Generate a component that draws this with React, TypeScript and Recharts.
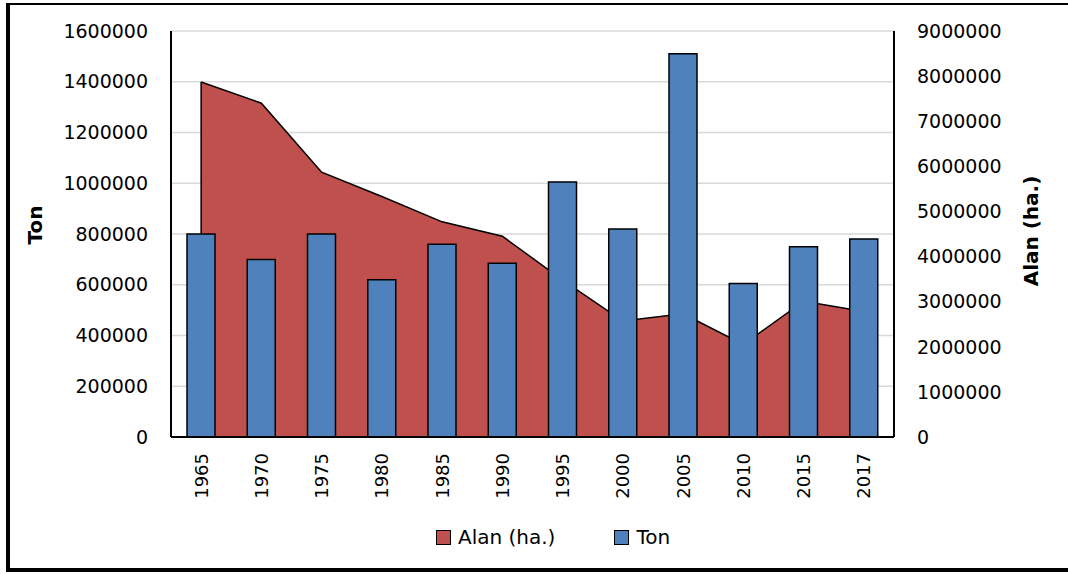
import React from 'react';
import {
  ComposedChart,
  Bar,
  Area,
  XAxis,
  YAxis,
  CartesianGrid,
  Legend,
  ReferenceLine,
} from 'recharts';

const years = ['1965', '1970', '1975', '1980', '1985', '1990', '1995', '2000', '2005', '2010', '2015', '2017'];
const ton = [800000, 700000, 800000, 620000, 760000, 685000, 1005000, 820000, 1510000, 605000, 750000, 780000];
const alan = [7870000, 7400000, 5870000, 5330000, 4770000, 4450000, 3480000, 2570000, 2730000, 2050000, 3010000, 2780000];
const leftTicks = [0, 200000, 400000, 600000, 800000, 1000000, 1200000, 1400000, 1600000];
const rightTicks = [0, 1000000, 2000000, 3000000, 4000000, 5000000, 6000000, 7000000, 8000000, 9000000];
const LEFT_MAX = 1600000;
const RIGHT_MAX = 9000000;

const data = years.map((y, i) => ({ year: y, ton: ton[i], alan: alan[i] }));

const FONT = '"DejaVu Sans", sans-serif';
const RED = '#C0504D';
const BLUE = '#4F81BD';

const XTick = (props: any) => {
  const { x, y, payload } = props;
  return (
    <text
      x={x}
      y={y}
      transform={`rotate(-90 ${x} ${y})`}
      textAnchor="end"
      dominantBaseline="central"
      fontFamily={FONT}
      fontSize={18}
      fill="#000"
    >
      {payload.value}
    </text>
  );
};

const LeftTitle = () => (
  <text
    x={35}
    y={225}
    transform="rotate(-90 35 225)"
    textAnchor="middle"
    dominantBaseline="central"
    fontFamily={FONT}
    fontSize={20}
    fontWeight="bold"
    fill="#000"
  >
    Ton
  </text>
);

const RightTitle = () => (
  <text
    x={1031}
    y={231}
    transform="rotate(-90 1031 231)"
    textAnchor="middle"
    dominantBaseline="central"
    fontFamily={FONT}
    fontSize={20}
    fontWeight="bold"
    fill="#000"
  >
    Alan (ha.)
  </text>
);

const LegendContent = () => {
  const items = [
    { label: 'Alan (ha.)', color: RED, gap: 59 },
    { label: 'Ton', color: BLUE, gap: 0 },
  ];
  return (
    <div style={{ display: 'flex', alignItems: 'center', fontFamily: FONT, fontSize: 20, color: '#000' }}>
      {items.map((it) => (
        <div key={it.label} style={{ display: 'flex', alignItems: 'center', marginRight: it.gap }}>
          <span
            style={{
              display: 'inline-block',
              width: 15,
              height: 15,
              background: it.color,
              border: '1.5px solid #000',
              boxSizing: 'border-box',
              marginRight: 7,
            }}
          />
          <span>{it.label}</span>
        </div>
      ))}
    </div>
  );
};

export default function App() {
  return (
    <div style={{ position: 'absolute', left: 0, top: 0, width: 1068, height: 574, overflow: 'hidden', background: '#fff' }}>
      <div
        style={{
          position: 'absolute',
          left: 6,
          top: 3,
          width: 1062,
          height: 569,
          boxSizing: 'border-box',
          borderLeft: '4px solid #000',
          borderTop: '2px solid #000',
          borderBottom: '4px solid #000',
        }}
      />
      <div style={{ position: 'absolute', left: 0, top: 0 }}>
        <ComposedChart
          width={1068}
          height={574}
          data={data}
          margin={{ top: 31, right: 0, left: 0, bottom: 0 }}
        >
          <CartesianGrid yAxisId="left" vertical={false} stroke="#D9D9D9" strokeWidth={1.5} />
          <XAxis
            dataKey="year"
            height={137}
            axisLine={{ stroke: '#000', strokeWidth: 2 }}
            tickLine={false}
            tickSize={0}
            tickMargin={16}
            tick={<XTick />}
            interval={0}
          />
          <XAxis
            xAxisId="top"
            dataKey="year"
            orientation="top"
            height={0}
            axisLine={{ stroke: '#000', strokeWidth: 2 }}
            tickLine={false}
            tick={false}
          />
          <YAxis
            yAxisId="left"
            width={171}
            domain={[0, LEFT_MAX]}
            ticks={leftTicks}
            interval={0}
            axisLine={{ stroke: '#000', strokeWidth: 2 }}
            tickLine={false}
            tickSize={0}
            tickMargin={23}
            tick={{ fontFamily: FONT, fontSize: 19, fill: '#000' }}
            label={<LeftTitle />}
          />
          <YAxis
            yAxisId="right"
            orientation="right"
            width={174}
            domain={[0, RIGHT_MAX]}
            ticks={rightTicks}
            interval={0}
            axisLine={{ stroke: '#000', strokeWidth: 2 }}
            tickLine={false}
            tickSize={0}
            tickMargin={23}
            tick={{ fontFamily: FONT, fontSize: 19, fill: '#000', textAnchor: 'start' }}
            label={<RightTitle />}
          />
          <Area
            yAxisId="right"
            type="linear"
            dataKey="alan"
            name="Alan (ha.)"
            fill={RED}
            fillOpacity={1}
            stroke="#000"
            strokeWidth={1.5}
            isAnimationActive={false}
            dot={false}
            activeDot={false}
          />
          <ReferenceLine
            yAxisId="right"
            segment={[
              { x: years[0], y: (ton[0] / LEFT_MAX) * RIGHT_MAX },
              { x: years[0], y: alan[0] },
            ]}
            stroke="#000"
            strokeWidth={1.5}
          />
          <Bar
            yAxisId="left"
            dataKey="ton"
            name="Ton"
            fill={BLUE}
            stroke="#000"
            strokeWidth={1.5}
            barSize={28}
            isAnimationActive={false}
          />
          <Legend
            layout="vertical"
            align="center"
            verticalAlign="middle"
            content={<LegendContent />}
            wrapperStyle={{ top: 525, left: 436, width: 400 }}
          />
        </ComposedChart>
      </div>
    </div>
  );
}
